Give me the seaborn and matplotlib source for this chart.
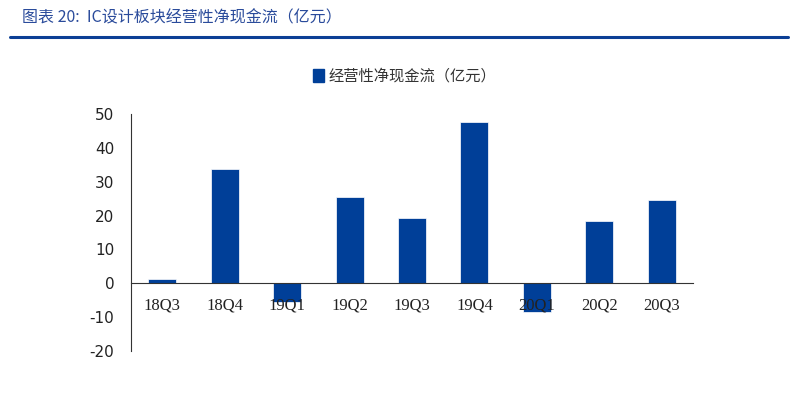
import matplotlib
matplotlib.use("Agg")
import matplotlib.pyplot as plt
import seaborn as sns
import pandas as pd
import numpy as np

quarters = ["18Q3", "18Q4", "19Q1", "19Q2", "19Q3", "19Q4", "20Q1", "20Q2", "20Q3"]
cash_flow = [1.4, 33.8, -5.5, 25.6, 19.2, 47.5, -8.4, 18.4, 24.6]
y_ticks = [-20, -10, 0, 10, 20, 30, 40, 50]
series_name = "经营性净现金流（亿元）"
title_text = "图表 20:  IC设计板块经营性净现金流（亿元）"

sns.set_theme(style="white")
plt.rcParams['font.family'] = ['Noto Sans CJK SC', 'DejaVu Sans']

BLUE = "#003F98"
df = pd.DataFrame({"q": quarters, "v": cash_flow})

fig = plt.figure(figsize=(8.01, 4.04), dpi=100)
ax = fig.add_axes([131/801, 1-351/404, (693-131)/801, (351-114)/404])

sns.barplot(data=df, x="q", y="v", color=BLUE, saturation=1, width=0.45, ax=ax,
            edgecolor="white", linewidth=0.5, zorder=1)
ax.set_axisbelow(False)

ax.set_ylim(-20, 50)
ax.set_xlim(-0.5, len(quarters) - 0.5)
ax.set_yticks(y_ticks)
ax.set_yticklabels([str(t) for t in y_ticks], family="DejaVu Sans", fontsize=11, color="#222222")
ax.tick_params(axis="y", direction="in", length=4, width=0.8, color="#333333", pad=12)

ax.spines["right"].set_visible(False)
ax.spines["top"].set_visible(False)
ax.spines["left"].set_color("#333333")
ax.spines["left"].set_linewidth(0.8)
ax.spines["bottom"].set_position(("data", 0))
ax.spines["bottom"].set_color("#333333")
ax.spines["bottom"].set_linewidth(0.8)

n = len(quarters)
ax.set_xticks(np.arange(n) + 0.5)
ax.set_xticklabels([])
ax.tick_params(axis="x", which="major", direction="in", length=4, width=0.8, color="#333333")
ax.set_xticks(np.arange(n), minor=True)
ax.set_xticklabels(quarters, minor=True, family="Liberation Serif", fontsize=12, color="#222222")
ax.tick_params(axis="x", which="minor", length=0, pad=10)
ax.set_xlabel("")
ax.set_ylabel("")
ax.grid(False)

# legend
from matplotlib.patches import Patch
fig.legend(handles=[Patch(facecolor=BLUE, edgecolor=BLUE, label=series_name)],
           loc="center", bbox_to_anchor=(405/801, 1-76/404), frameon=False,
           fontsize=11, handlelength=0.7, handleheight=0.9, handletextpad=0.3,
           labelcolor="#333333")

# title and rule
fig.text(22/801, 1-18/404, title_text, fontsize=11.5, color="#2A4B9B",
         style="italic", va="center", ha="left")
fig.add_artist(plt.Line2D([10/801, 788/801], [1-37/404, 1-37/404], color="#0B3F95",
                          linewidth=2.2, transform=fig.transFigure))

fig.savefig("out.png", dpi=100)
